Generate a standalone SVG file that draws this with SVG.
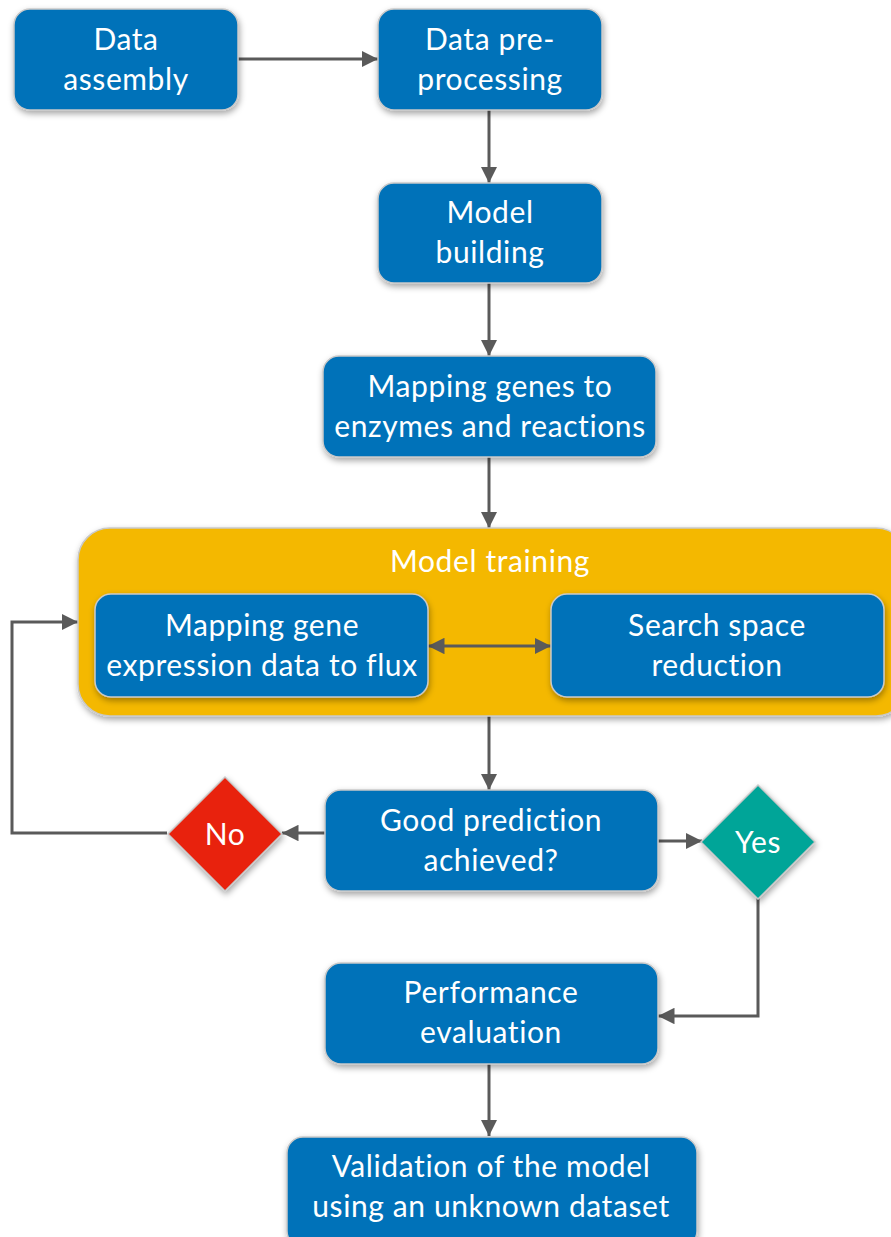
<svg xmlns="http://www.w3.org/2000/svg" width="891" height="1237" viewBox="0 0 891 1237">
<style>
.box{fill:#0072b9;stroke:#c9c9c9;stroke-width:1.5}
.t{font-family:Lato,"Open Sans",sans-serif;font-size:30px;letter-spacing:0.6px;fill:#fff;text-anchor:middle}
.c{stroke:#5a5a5a;stroke-width:3;fill:none}
</style>
<defs>
<filter id="sh" x="-10%" y="-10%" width="130%" height="140%">
<feDropShadow dx="1" dy="3" stdDeviation="3" flood-color="#000" flood-opacity="0.35"/>
</filter>
<marker id="ah" viewBox="0 0 10 10" refX="10" refY="5" markerWidth="5.5" markerHeight="5.5" orient="auto-start-reverse" markerUnits="strokeWidth">
<path d="M0,0 L10,5 L0,10 z" fill="#5a5a5a"/>
</marker>
</defs>
<rect width="891" height="1237" fill="#fff"/>
<g id="connectors">
<line class="c" x1="238" y1="59" x2="378" y2="59" marker-end="url(#ah)"/>
<line class="c" x1="489" y1="110" x2="489" y2="183" marker-end="url(#ah)"/>
<line class="c" x1="489" y1="283" x2="489" y2="356" marker-end="url(#ah)"/>
<line class="c" x1="489" y1="457" x2="489" y2="528" marker-end="url(#ah)"/>
<line class="c" x1="489" y1="716" x2="489" y2="790" marker-end="url(#ah)"/>
<line class="c" x1="325" y1="833" x2="282" y2="833" marker-end="url(#ah)"/>
<polyline class="c" points="167,833 12,833 12,622 78,622" marker-end="url(#ah)"/>
<line class="c" x1="658" y1="841" x2="702" y2="841" marker-end="url(#ah)"/>
<polyline class="c" points="758,898 758,1016 658,1016" marker-end="url(#ah)"/>
<line class="c" x1="489" y1="1064" x2="489" y2="1136" marker-end="url(#ah)"/>
</g>
<g id="model-training">
<rect x="78" y="528" width="830" height="188" rx="32" fill="#f4b800" stroke="#c9c9c9" stroke-width="1.5" filter="url(#sh)"/>
<text class="t" x="490" y="572">Model training</text>
</g>
<g id="inner-connector">
<line class="c" x1="428" y1="646" x2="551" y2="646" marker-start="url(#ah)" marker-end="url(#ah)"/>
</g>
<g id="data-assembly">
<rect class="box" x="14" y="9" width="224" height="101" rx="16" filter="url(#sh)"/>
<text class="t" x="126" y="50">Data</text>
<text class="t" x="126" y="90">assembly</text>
</g>
<g id="data-preprocessing">
<rect class="box" x="378" y="9" width="224" height="101" rx="16" filter="url(#sh)"/>
<text class="t" x="490" y="50">Data pre-</text>
<text class="t" x="490" y="90">processing</text>
</g>
<g id="model-building">
<rect class="box" x="378" y="183" width="224" height="100" rx="16" filter="url(#sh)"/>
<text class="t" x="490" y="223">Model</text>
<text class="t" x="490" y="263">building</text>
</g>
<g id="mapping-genes">
<rect class="box" x="323" y="356" width="333" height="101" rx="16" filter="url(#sh)"/>
<text class="t" x="490" y="397">Mapping genes to</text>
<text class="t" x="490" y="437">enzymes and reactions</text>
</g>
<g id="mapping-expression">
<rect class="box" x="95" y="594" width="333" height="103" rx="16" filter="url(#sh)"/>
<text class="t" x="262" y="636">Mapping gene</text>
<text class="t" x="262" y="676">expression data to flux</text>
</g>
<g id="search-space">
<rect class="box" x="551" y="594" width="333" height="103" rx="16" filter="url(#sh)"/>
<text class="t" x="717" y="636">Search space</text>
<text class="t" x="717" y="676">reduction</text>
</g>
<g id="good-prediction">
<rect class="box" x="325" y="790" width="333" height="101" rx="16" filter="url(#sh)"/>
<text class="t" x="491" y="831">Good prediction</text>
<text class="t" x="491" y="871">achieved?</text>
</g>
<g id="no">
<polygon points="225,777 282,834 225,891 168,834" fill="#e8230e" stroke="#c9c9c9" stroke-width="1.5" filter="url(#sh)"/>
<text class="t" x="225" y="845">No</text>
</g>
<g id="yes">
<polygon points="758,785 815,842 758,899 701,842" fill="#00a598" stroke="#c9c9c9" stroke-width="1.5" filter="url(#sh)"/>
<text class="t" x="758" y="853">Yes</text>
</g>
<g id="performance">
<rect class="box" x="325" y="963" width="333" height="101" rx="16" filter="url(#sh)"/>
<text class="t" x="491" y="1003">Performance</text>
<text class="t" x="491" y="1043">evaluation</text>
</g>
<g id="validation">
<rect class="box" x="287" y="1137" width="410" height="110" rx="16" filter="url(#sh)"/>
<text class="t" x="491" y="1177">Validation of the model</text>
<text class="t" x="491" y="1217">using an unknown dataset</text>
</g>
</svg>
